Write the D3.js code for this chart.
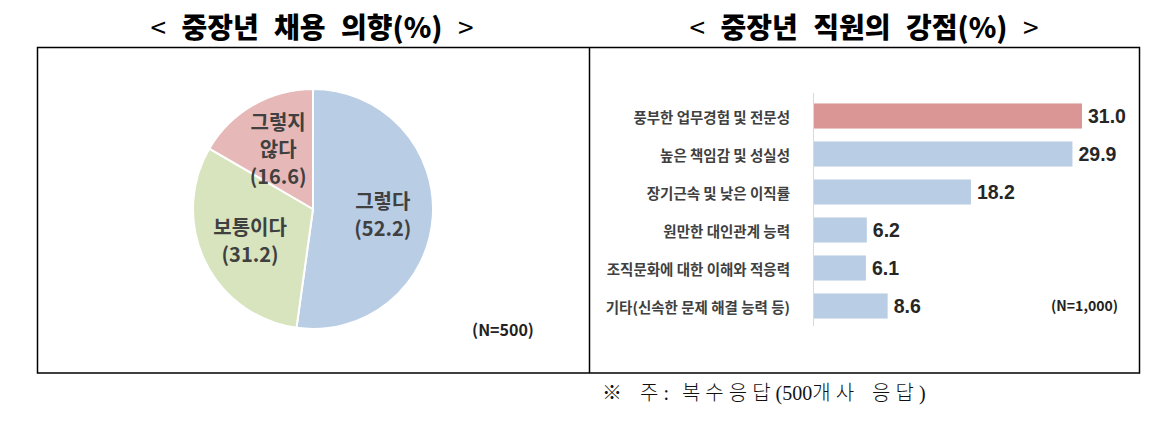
<!DOCTYPE html>
<html>
<head>
<meta charset="utf-8">
<script src="https://cdn.jsdelivr.net/npm/d3@7"></script>
<style>
  html, body { margin: 0; padding: 0; background: #fff; }
  svg { display: block; }
</style>
</head>
<body>
<svg id="chart" width="1171" height="437"></svg>
<script>
// ---------- data ----------
const pieTitle = "중장년 채용 의향(%)";
const pieCategories = ["그렇다", "보통이다", "그렇지 않다"];
const pieValues = [52.2, 31.2, 16.6];
const pieColors = ["#b9cde5", "#d7e4bd", "#e6b9b8"];
const pieNote = "(N=500)";

const barTitle = "중장년 직원의 강점(%)";
const barCategories = [
  "풍부한 업무경험 및 전문성",
  "높은 책임감 및 성실성",
  "장기근속 및 낮은 이직률",
  "원만한 대인관계 능력",
  "조직문화에 대한 이해와 적응력",
  "기타(신속한 문제 해결 능력 등)"
];
const barValues = [31.0, 29.9, 18.2, 6.2, 6.1, 8.6];
const barNote = "(N=1,000)";
const footnote = "※ 주: 복수응답(500개사 응답)";

// ---------- drawing ----------
const svg = d3.select("#chart");
const KR = "'Noto Sans CJK KR', 'Noto Sans', sans-serif";
const NUM = "'Liberation Sans', Arial, sans-serif";

// frame
svg.append("rect").attr("x", 37.5).attr("y", 47.5).attr("width", 1102).attr("height", 325.5)
  .attr("fill", "none").attr("stroke", "#000").attr("stroke-width", 1.5);
svg.append("line").attr("x1", 589.5).attr("x2", 589.5).attr("y1", 47.5).attr("y2", 373)
  .attr("stroke", "#000").attr("stroke-width", 1.5);

// titles
function title(cx, text) {
  const t = svg.append("text").attr("x", cx).attr("y", 26)
    .attr("text-anchor", "middle").attr("dominant-baseline", "central")
    .attr("font-family", KR).attr("font-size", 28).attr("font-weight", 900).attr("fill", "#000")
    .style("word-spacing", "9px");
  t.append("tspan").attr("font-weight", 400).text("<");
  t.append("tspan").text(" " + text + " ");
  t.append("tspan").attr("font-weight", 400).text(">");
}
title(312, pieTitle);
title(864, barTitle);

// ---------- pie ----------
const cx = 313, cy = 209, R = 120;
const pie = d3.pie().sort(null).value(d => d.v);
const arcs = pie(pieCategories.map((c, i) => ({ c, v: pieValues[i], col: pieColors[i] })));
const arc = d3.arc().innerRadius(0).outerRadius(R);
const labelArc = d3.arc().innerRadius(70).outerRadius(70);
const gPie = svg.append("g").attr("transform", `translate(${cx},${cy})`);
gPie.selectAll("path").data(arcs).join("path")
  .attr("d", arc).attr("fill", d => d.data.col)
  .attr("stroke", "#fff").attr("stroke-width", 2);

arcs.forEach(d => {
  const lines = d.data.c.split(" ").concat(["(" + d.data.v.toFixed(1) + ")"]);
  const [lx, ly] = labelArc.centroid(d);
  const lh = 27;
  const y0 = ly - (lines.length - 1) * lh / 2;
  lines.forEach((ln, i) => {
    gPie.append("text").attr("x", lx).attr("y", y0 + i * lh)
      .attr("text-anchor", "middle").attr("dominant-baseline", "central")
      .attr("font-family", KR).attr("font-weight", 700).attr("font-size", 20)
      .attr("fill", "#404040").text(ln);
  });
});

svg.append("text").attr("x", 503).attr("y", 329)
  .attr("text-anchor", "middle").attr("dominant-baseline", "central")
  .attr("font-family", KR).attr("font-weight", 700).attr("font-size", 16)
  .attr("fill", "#222").text(pieNote);

// ---------- bars ----------
const x0 = 813;
const x = d3.scaleLinear().domain([0, 31.0]).range([x0, 1082]);
const y = d3.scaleBand().domain(barCategories).range([97, 325]).paddingInner(0.34).paddingOuter(0.17);

svg.append("line").attr("x1", x0 + 0.5).attr("x2", x0 + 0.5).attr("y1", 93).attr("y2", 326)
  .attr("stroke", "#d9d9d9").attr("stroke-width", 1);

const bars = barCategories.map((c, i) => ({ c, v: barValues[i], i }));
svg.selectAll("rect.bar").data(bars).join("rect").attr("class", "bar")
  .attr("x", x(0) + 1).attr("y", d => y(d.c))
  .attr("width", d => x(d.v) - x(0) - 1).attr("height", y.bandwidth())
  .attr("fill", d => d.i === 0 ? "#d99694" : "#b9cde5");

svg.selectAll("text.val").data(bars).join("text").attr("class", "val")
  .attr("x", d => x(d.v) + 6).attr("y", d => y(d.c) + y.bandwidth() / 2)
  .attr("dominant-baseline", "central")
  .attr("font-family", NUM).attr("font-weight", 700).attr("font-size", 19.5)
  .attr("fill", "#262626").text(d => d.v.toFixed(1));

svg.selectAll("text.cat").data(bars).join("text").attr("class", "cat")
  .attr("x", 790).attr("y", d => y(d.c) + y.bandwidth() / 2)
  .attr("text-anchor", "end").attr("dominant-baseline", "central")
  .attr("font-family", KR).attr("font-weight", 700).attr("font-size", 14.5)
  .attr("fill", "#404040").text(d => d.c);

svg.append("text").attr("x", 1118).attr("y", 305)
  .attr("text-anchor", "end").attr("dominant-baseline", "central")
  .attr("font-family", KR).attr("font-weight", 700).attr("font-size", 14)
  .attr("fill", "#222").text(barNote);

// footnote: hangul runs spaced like a Batang-style face, other glyphs tight
const fn = svg.append("text").attr("x", 602).attr("y", 393)
  .attr("dominant-baseline", "central")
  .attr("font-family", "'Liberation Serif', 'Noto Sans CJK KR', serif").attr("font-size", 20)
  .style("word-spacing", "8px")
  .attr("fill", "#111");
footnote.split(/([\u3131-\uD79D]+|※)/).filter(s => s.length).forEach(part => {
  const isWide = /^([\u3131-\uD79D]+|※)$/.test(part);
  fn.append("tspan")
    .attr("font-size", 20)
    .attr("font-weight", isWide ? 300 : 400)
    .style("letter-spacing", isWide ? "5px" : "0px").text(part);
});
</script>
</body>
</html>
